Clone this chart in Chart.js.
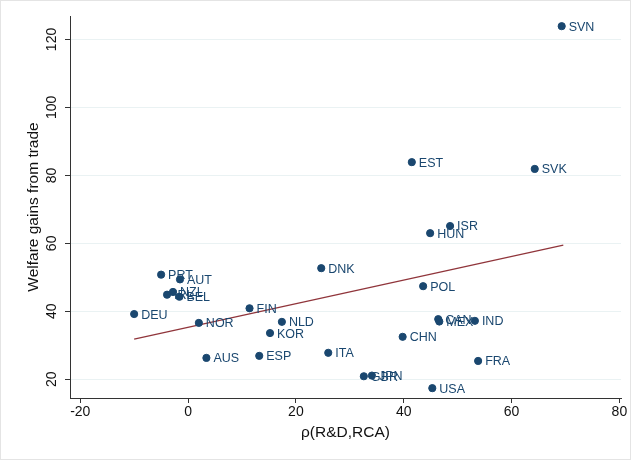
<!DOCTYPE html>
<html>
<head>
<meta charset="utf-8">
<script src="https://cdn.jsdelivr.net/npm/chart.js@4.4.1/dist/chart.umd.min.js"></script>
<style>
  body { margin: 0; background: #fff; }
  canvas { display: block; }
</style>
</head>
<body>
<canvas id="chart" width="631" height="460"></canvas>
<script>
// country codes and values
const countries = ["SVN", "SVK", "EST", "ISR", "HUN", "DNK", "POL", "PRT", "AUT", "NZL", "IRL", "BEL", "DEU", "NOR",
  "FIN", "NLD", "KOR", "AUS", "ESP", "ITA", "CHN", "CAN", "MEX", "IND", "GBR", "JPN", "USA", "FRA"];
const rho = [69.3, 64.3, 41.5, 48.6, 44.9, 24.7, 43.6, -5.0, -1.5, -2.8, -3.9, -1.6, -10.0, 2.0,
  11.4, 17.4, 15.2, 3.4, 13.2, 26.0, 39.8, 46.4, 46.6, 53.2, 32.6, 34.1, 45.3, 53.8];
const welfare = [123.9, 81.9, 83.9, 65.1, 63.0, 52.7, 47.4, 50.8, 49.4, 45.7, 44.9, 44.3, 39.2, 36.6,
  40.9, 36.9, 33.6, 26.3, 26.9, 27.8, 32.5, 37.7, 37.0, 37.2, 20.9, 21.1, 17.4, 25.4];

// fitted line end points
const fitX = [-10.0, 69.6];
const fitY = [31.8, 59.5];

const xTicks = [-20, 0, 20, 40, 60, 80];
const yTicks = [20, 40, 60, 80, 100, 120];

const navy = "#1a476f";
const maroon = "#90353b";
const font = "'Liberation Sans', Arial, sans-serif";

const pointLabels = {
  id: "pointLabels",
  afterDatasetsDraw(chart) {
    const ctx = chart.ctx;
    const meta = chart.getDatasetMeta(0);
    ctx.save();
    ctx.fillStyle = navy;
    ctx.font = "12.5px " + font;
    ctx.textBaseline = "middle";
    ctx.textAlign = "left";
    meta.data.forEach((pt, i) => {
      ctx.fillText(countries[i], pt.x + 7, pt.y + 1);
    });
    ctx.restore();
  },
};

const frame = {
  id: "frame",
  afterDraw(chart) {
    const ctx = chart.ctx;
    ctx.save();
    ctx.strokeStyle = "#e4e4e4";
    ctx.lineWidth = 1;
    ctx.strokeRect(0.5, 0.5, chart.width - 1, chart.height - 1);
    ctx.restore();
  },
};

new Chart(document.getElementById("chart"), {
  type: "scatter",
  data: {
    datasets: [
      {
        label: "countries",
        data: rho.map((x, i) => ({ x: x, y: welfare[i] })),
        backgroundColor: navy,
        borderColor: navy,
        pointRadius: 3.6,
        pointHoverRadius: 3.6,
        order: 1,
      },
      {
        label: "fit",
        type: "line",
        data: fitX.map((x, i) => ({ x: x, y: fitY[i] })),
        borderColor: maroon,
        borderWidth: 1.3,
        pointRadius: 0,
        fill: false,
        order: 2,
      },
    ],
  },
  options: {
    responsive: false,
    animation: false,
    layout: { padding: { left: 0, right: 10, top: 16, bottom: 0 } },
    plugins: {
      legend: { display: false },
      tooltip: { enabled: false },
    },
    scales: {
      x: {
        type: "linear",
        min: -21.9,
        max: 80.3,
        afterBuildTicks: (s) => { s.ticks = xTicks.map((v) => ({ value: v })); },
        afterFit: (s) => { s.height = 62; },
        border: { display: true, color: "#333", width: 1 },
        grid: { drawOnChartArea: false, drawTicks: true, tickLength: 5, tickColor: "#333" },
        ticks: { color: "#111", font: { family: font, size: 14 }, padding: 1, maxRotation: 0 },
        title: {
          display: true,
          text: "ρ(R&D,RCA)",
          color: "#111",
          font: { family: font, size: 15.5 },
          padding: { top: 0, bottom: 18 },
        },
      },
      y: {
        type: "linear",
        min: 14.5,
        max: 126.9,
        afterBuildTicks: (s) => { s.ticks = yTicks.map((v) => ({ value: v })); },
        afterFit: (s) => { s.width = 70; },
        border: { display: true, color: "#333", width: 1 },
        grid: { color: "#eaf2f3", lineWidth: 1, drawTicks: true, tickLength: 5, tickColor: "#333" },
        ticks: {
          color: "#111",
          font: { family: font, size: 14 },
          minRotation: 90,
          maxRotation: 90,
          crossAlign: "center",
          padding: 1,
        },
        title: {
          display: true,
          text: "Welfare gains from trade",
          color: "#111",
          font: { family: font, size: 15.5 },
          padding: { top: 24, bottom: 0 },
        },
      },
    },
  },
  plugins: [pointLabels, frame],
});
</script>
</body>
</html>
